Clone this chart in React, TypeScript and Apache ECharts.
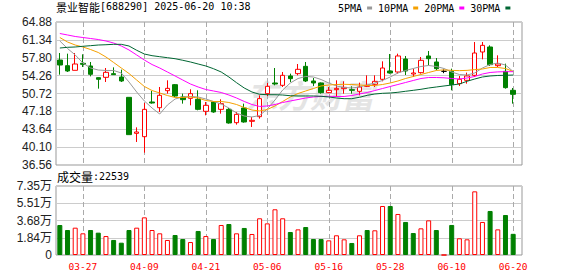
import React, { useEffect, useRef } from 'react';
import * as echarts from 'echarts';

const dates = ['03-24','03-25','03-26','03-27','03-28','03-31','04-01','04-02','04-03','04-07','04-08','04-09','04-10','04-11','04-14','04-15','04-16','04-17','04-18','04-21','04-22','04-23','04-24','04-25','04-28','04-29','04-30','05-06','05-07','05-08','05-09','05-12','05-13','05-14','05-15','05-16','05-19','05-20','05-21','05-22','05-23','05-26','05-27','05-28','05-29','05-30','06-03','06-04','06-05','06-06','06-09','06-10','06-11','06-12','06-13','06-16','06-17','06-18','06-19','06-20'];

const opens = [57.35,56.23,55.31,56.70,56.17,53.86,53.92,54.65,53.99,49.96, 42.83,42.17,49.04,47.91,51.28,52.47,50.03,49.76,49.57,47.19, 49.04,47.58,47.58,44.94,47.85,45.21,46.13,50.69,52.80,52.34, 54.19,54.65,56.10,53.20,52.80,50.89,51.48,51.68,51.48,51.15, 52.14,52.54,53.53,55.18,54.98,57.55,54.58,54.85,58.15,56.96, 55.12,55.11,52.67,53.33,54.32,58.94,59.93,56.23,55.11,51.35];
const closes = [56.36,55.18,56.56,56.50,54.52,53.53,54.91,54.45,53.20,42.57, 43.10,47.58,48.84,50.36,51.74,50.22,49.50,50.69,47.58,48.38, 47.06,48.71,44.88,46.59,45.08,45.41,49.70,52.14,52.60,54.32, 53.66,55.51,53.20,52.80,50.89,51.35,51.74,51.94,51.35,52.01, 52.34,53.13,55.77,54.78,58.15,55.18,54.78,57.29,57.62,55.64, 55.12,52.47,53.53,54.19,58.74,60.26,56.43,56.56,51.88,50.56];
const lows = [54.45,54.98,55.31,55.97,54.12,51.68,53.00,54.40,53.00,42.57, 41.12,39.00,48.71,47.06,50.69,50.00,48.71,48.38,47.39,46.40, 46.90,46.73,44.75,44.55,44.94,44.09,45.74,50.22,52.34,52.01, 53.00,54.32,53.00,52.21,50.69,50.80,50.03,50.69,50.69,50.36, 52.00,52.01,53.13,54.65,54.65,54.38,53.99,54.65,56.30,55.31, 54.75,51.35,52.21,52.67,53.99,57.49,56.17,55.97,51.68,48.71];
const highs = [58.74,58.61,58.74,58.48,56.96,53.90,55.77,55.90,55.44,49.96, 44.02,48.84,51.22,52.01,53.33,52.60,50.69,51.55,51.35,49.04, 49.20,49.57,47.85,47.06,48.71,46.07,50.36,52.80,55.77,54.98, 54.65,56.56,56.96,53.79,52.90,52.01,53.33,53.13,52.14,52.87, 54.32,54.32,57.09,58.54,58.61,58.15,55.64,57.95,59.14,57.75, 55.50,55.64,54.19,54.85,60.92,60.92,60.26,58.28,56.63,51.81];

const volumes = [31956,26630,29100,23100,26630,23800,20200,16000,13100,26630, 29100,40100,26630,23100,16000,21300,17000,13800,25600,20200, 17000,31960,33000,23100,28800,22400,39100,33700,48700,39100, 24500,27300,29800,17000,17000,15600,21000,16700,12800,21000, 26600,26300,52200,52200,43700,35200,23400,28400,36900,26600, 0,32000,17800,16700,67800,35200,46900,27300,42600,22539];
const volUp = [0,0,1,1,0,0,1,0,0,0, 1,1,1,1,1,0,0,1,0,1, 0,1,0,1,0,1,1,1,1,1, 0,1,0,0,0,1,1,1,0,1, 0,1,1,0,1,0,0,1,1,0, 1,0,1,1,1,1,0,1,0,0];

const ma5 = [61.12,59.63,58.35,56.76,55.77,55.37,55.28,55.28,54.78,53.00, 51.02,49.24,47.85,46.66,48.44,49.63,50.03,50.13,50.03,49.63, 49.14,48.64,47.85,46.86,46.26,46.07,46.36,47.65,49.43,51.41, 52.80,53.69,54.09,53.99,53.49,52.80,52.21,51.91,51.81,52.01, 52.40,52.80,53.30,53.99,54.78,55.28,55.67,56.07,56.27,56.07, 55.67,54.98,54.48,54.38,54.78,55.77,56.46,56.76,56.36,55.08];
const ma10 = [61.81,60.92,60.32,59.93,59.43,58.84,57.95,56.86,55.77,54.68, 53.39,52.11,51.31,50.82,50.32,49.93,49.93,50.03,49.83,49.33, 49.14,49.14,48.94,48.54,47.95,47.45,47.26,47.55,48.25,49.14, 50.03,50.72,51.22,51.71,52.21,52.40,52.50,52.54,52.50,52.40, 52.31,52.31,52.50,52.80,53.20,53.69,54.09,54.48,54.88,55.28, 55.40,55.30,55.25,55.30,55.45,55.57,55.87,55.87,55.67,55.08];
const ma20 = [62.60,62.31,62.01,61.81,61.61,61.41,61.12,60.72,60.13,59.34, 58.35,57.35,56.46,55.77,54.98,54.19,53.39,52.60,52.01,51.51, 51.22,50.92,50.42,49.83,49.14,48.54,48.15,48.25,48.54,48.94, 49.24,49.53,49.83,50.03,50.13,50.17,50.13,50.13,50.32,50.62, 50.92,51.31,51.71,52.11,52.50,52.90,53.30,53.69,53.89,53.89, 53.83,53.69,53.59,53.79,54.09,54.58,54.88,55.00,55.04,55.04];
const ma30 = [59.73,59.87,59.93,60.07,60.19,60.32,60.38,60.46,60.46,60.13, 59.28,58.54,58.21,58.01,57.81,57.61,57.30,56.96,56.56,56.17, 55.63,54.98,53.99,52.86,51.81,51.02,50.56,50.48,50.48,50.42, 50.28,50.23,50.23,50.23,50.17,50.03,49.83,49.69,49.69,49.97, 50.36,50.62,50.76,50.82,50.96,51.16,51.35,51.55,51.81,52.01, 52.21,52.40,52.60,53.14,53.59,53.99,54.19,54.29,54.33,54.38];

const priceTicks = ['36.56','40.10','43.64','47.18','50.72','54.26','57.80','61.34','64.88'];
const volTicks = ['0','1.84万','3.68万','5.51万','7.35万'];
const priceMin = 36.56;
const priceMax = 64.88;
const volMax = 73500;
const maNames = ['5PMA','10PMA','20PMA','30PMA'];
const maColors = ['#999999','#f5a000','#ff00ff','#006633'];
const stockTitle = '景业智能';
const stockCode = '[688290] 2025-06-20 10:38';
const volLabel = '成交量';
const lastVolume = '22539';

export default function App() {
  const ref = useRef<HTMLDivElement>(null);
  useEffect(() => {
    const chart = echarts.init(ref.current as HTMLDivElement, undefined, { renderer: 'svg' });
    const RED = '#ff0000';
    const GREEN = '#008000';
    const every8 = (i: number) => i % 8 === 3;
    const mono = "'DejaVu Sans Mono', monospace";
    const sans = "'Liberation Sans', 'Noto Sans CJK SC', sans-serif";
    const cjk = "'Noto Sans CJK SC', sans-serif";

    const candleData = dates.map((_, i) => {
      const v = [opens[i], closes[i], lows[i], highs[i]];
      if (opens[i] === closes[i]) {
        return { value: v, itemStyle: { color: '#000', color0: '#000', borderColor: '#000', borderColor0: '#000', borderColorDoji: '#000' } };
      }
      return v;
    });
    const volData = volumes.map((v, i) => ({
      value: v,
      itemStyle: volUp[i]
        ? { color: '#ffffff', borderColor: RED, borderWidth: 1 }
        : { color: GREEN, borderColor: GREEN, borderWidth: 1 },
    }));
    const maList = [ma5, ma10, ma20, ma30];
    const labelIdx = dates.map((_, i) => i).filter((i) => every8(i));

    const dashSeries = (xi: number, yi: number, lo: number, hi: number) => ({
      type: 'custom', xAxisIndex: xi, yAxisIndex: yi, silent: true, z: 1,
      encode: { x: 0, y: 1 },
      data: labelIdx.map((i) => [i, lo, hi]),
      renderItem: (params: any, api: any) => {
        const p0 = api.coord([api.value(0), api.value(1)]);
        const p1 = api.coord([api.value(0), api.value(2)]);
        const x = Math.round(p0[0]) + 0.5;
        return {
          type: 'line',
          shape: { x1: x, y1: p1[1], x2: x, y2: p0[1] },
          style: { stroke: '#aaaaaa', lineWidth: 1, lineDash: [5, 3] },
        };
      },
    });

    const frameY = (labels: string[], grid: number) => ({
      type: 'value', gridIndex: grid, min: 0, max: labels.length - 1, interval: 1,
      axisLine: { show: false }, axisTick: { show: false },
      axisLabel: { formatter: (v: number) => labels[Math.round(v)], color: '#222', fontFamily: sans, fontSize: 12, margin: 4 },
      splitLine: { show: true, lineStyle: { color: '#cccccc', width: 1 } },
    });

    const dataX = (grid: number, showLabel: boolean) => ({
      type: 'category', gridIndex: grid, data: dates, boundaryGap: true,
      axisLine: { show: false }, axisTick: { show: false },
      axisLabel: showLabel
        ? { show: true, interval: every8, color: RED, fontFamily: mono, fontSize: 9.5, margin: 6 }
        : { show: false },
      splitLine: { show: false },
    });

    const option: any = {
      animation: false,
      backgroundColor: '#ffffff',
      legend: {
        data: maNames, left: 338, top: 3, align: 'right', icon: 'rect',
        itemWidth: 5, itemHeight: 3, itemGap: 6, padding: 0,
        selectedMode: false,
        textStyle: { fontFamily: mono, fontSize: 10, color: '#000' },
      },
      grid: [
        { left: 56, top: 22, width: 466, height: 143, show: true, borderColor: '#999999', borderWidth: 1, backgroundColor: 'transparent' },
        { left: 56, top: 22, width: 461, height: 143 },
        { left: 56, top: 186, width: 466, height: 69, show: true, borderColor: '#999999', borderWidth: 1, backgroundColor: 'transparent' },
        { left: 56, top: 186, width: 461, height: 69 },
      ],
      xAxis: [
        { type: 'value', gridIndex: 0, min: 0, max: 1, show: false },
        dataX(1, false),
        { type: 'value', gridIndex: 2, min: 0, max: 1, show: false },
        dataX(3, true),
      ],
      yAxis: [
        frameY(priceTicks, 0),
        { type: 'value', gridIndex: 1, min: priceMin, max: priceMax, show: false, splitLine: { show: false } },
        frameY(volTicks, 2),
        { type: 'value', gridIndex: 3, min: 0, max: volMax, show: false, splitLine: { show: false } },
      ],
      graphic: [
        {
          type: 'text', left: 56, top: 1, z: 10,
          style: {
            text: '{a|' + stockTitle + '}{b|' + stockCode + '}',
            rich: {
              a: { fontFamily: cjk, fontSize: 11, fill: '#000', lineHeight: 14 },
              b: { fontFamily: mono, fontSize: 10, fill: '#000', lineHeight: 14 },
            },
          },
        },
        {
          type: 'text', left: 57, top: 170, z: 10,
          style: {
            text: '{a|' + volLabel + '}{b|:' + lastVolume + '}',
            rich: {
              a: { fontFamily: cjk, fontSize: 12, fill: '#000', lineHeight: 14 },
              b: { fontFamily: mono, fontSize: 10, fill: '#000', lineHeight: 14 },
            },
          },
        },
        {
          type: 'text', left: 246, top: 78, z: -1, silent: true,
          style: { text: '东方财富', fontFamily: cjk, fontSize: 32, fontWeight: 'bold', fontStyle: 'italic', fill: '#e4e4e4' },
        },
      ],
      series: [
        dashSeries(1, 1, priceMin, priceMax),
        dashSeries(3, 3, 0, volMax),
        {
          type: 'candlestick', name: 'K', xAxisIndex: 1, yAxisIndex: 1, barWidth: 5,
          itemStyle: { color: '#ffffff', color0: GREEN, borderColor: RED, borderColor0: GREEN, borderWidth: 1 },
          data: candleData,
        },
        ...maList.map((d, k) => ({
          type: 'line', name: maNames[k], xAxisIndex: 1, yAxisIndex: 1, data: d,
          symbol: 'none', smooth: false,
          lineStyle: { color: maColors[k], width: 1 },
          itemStyle: { color: maColors[k] },
          z: 3,
        })),
        {
          type: 'bar', name: 'VOL', xAxisIndex: 3, yAxisIndex: 3, barWidth: 5,
          data: volData,
        },
      ],
    };
    chart.setOption(option);
    return () => chart.dispose();
  }, []);
  return <div ref={ref} style={{ position: 'absolute', left: 0, top: 0, width: 578, height: 276 }} />;
}
